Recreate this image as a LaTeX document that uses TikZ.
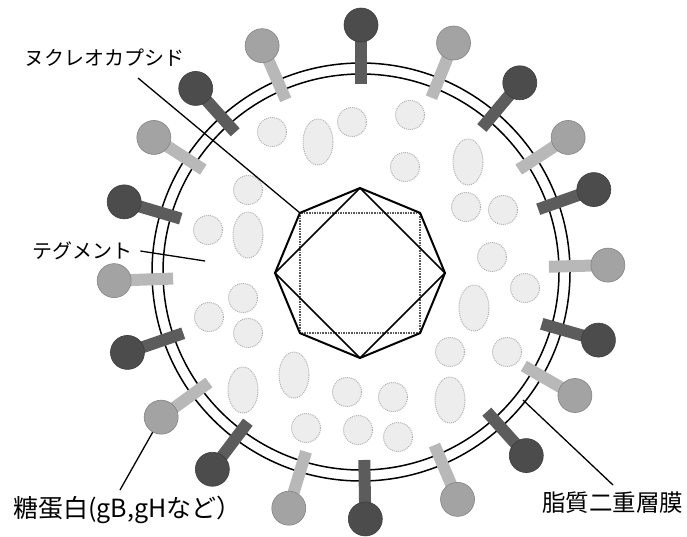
\documentclass[tikz,border=0pt]{standalone}
\usepackage{fontspec}
\newfontfamily\jpfont{Noto Sans CJK JP}

\definecolor{balldark}{gray}{0.30}
\definecolor{balllight}{gray}{0.64}
\definecolor{stalkdark}{gray}{0.36}
\definecolor{stalklight}{gray}{0.72}
\definecolor{tegfill}{gray}{0.93}

\begin{document}
\begin{tikzpicture}[x=1pt,y=-1pt,
  lbl/.style={font=\jpfont\fontsize{#1}{24}\selectfont, inner sep=0pt},
  lbl/.default=20,
  leader/.style={line width=1.3pt},
  membrane/.style={line width=1.5pt},
  capsid/.style={line width=2pt, line join=miter},
  stalk/.style={line width=12pt, draw=#1},
  ball/.style={circle, fill=#1, draw=#1!80!black, line width=0.6pt, minimum size=34pt, inner sep=0pt},
  vesicle/.style={fill=tegfill, draw=gray!60, densely dotted, line width=1pt}]
\useasboundingbox (0,0) rectangle (687,536);

%tegument particles
\foreach \x/\y in {272/132, 352/122, 410/115, 405/167, 248/190, 208/230, 243/298,
    209/317, 248/333, 347/392, 306/428, 358/430, 393/397, 398/437, 450/352,
    507/352, 525/288, 466/207, 503/210, 492/257}
  \draw[vesicle] (\x,\y) circle (14.5);
\foreach \x/\y in {318/142, 468/162, 248/235, 243/390, 294/375, 474/308, 450/400}
  \draw[vesicle] (\x,\y) ellipse (15 and 23);

%envelope
\coordinate (c) at (361,272);
\draw[membrane] (c) circle (209);
\draw[membrane] (c) circle (198);

%glycoprotein spikes
\begin{scope}[shift={(c)}]
\foreach \a/\sc/\bc [count=\k] in {-90/stalkdark/balldark, -68/stalklight/balllight,
    -50/stalkdark/balldark, -33/stalklight/balllight, -19.5/stalkdark/balldark,
    -1.6/stalklight/balllight, 16/stalkdark/balldark, 30/stalklight/balllight,
    48/stalkdark/balldark, 67/stalklight/balllight, 89/stalkdark/balldark,
    107/stalklight/balllight, 127/stalkdark/balldark, 144/stalklight/balllight,
    161/stalkdark/balldark, 178/stalklight/balllight, 196.5/stalkdark/balldark,
    213/stalklight/balllight, 228/stalkdark/balldark, 246.4/stalklight/balllight}{
  \draw[stalk=\sc] (\a:188) -- (\a:234);
  \node[ball=\bc] (b\k) at (\a:247) {};
}
\end{scope}

%nucleocapsid
\coordinate (o) at (360,273);
\foreach \i in {0,...,7}
  \path (o) ++(\i*45:85) coordinate (v\i);
\draw[gray!70!black, densely dotted, line width=1.6pt] (v1) -- (v3) -- (v5) -- (v7) -- cycle;
\draw[line width=1.6pt] (v0) -- (v2) -- (v4) -- (v6) -- cycle;
\draw[capsid] (v0) -- (v1) -- (v2) -- (v3) -- (v4) -- (v5) -- (v6) -- (v7) -- cycle;

%labels
\node[lbl, anchor=west] (nc) at (24,58) {ヌクレオカプシド};
\node[lbl, anchor=west] (teg) at (32,251) {テグメント};
\node[lbl=25, anchor=west] (gp) at (13,510) {糖蛋白(gB,gHなど）};
\node[lbl=23.5, anchor=west] (lip) at (542,503) {脂質二重層膜};

\coordinate (nc-s) at (138,78);
\coordinate (teg-e) at (205,261);
\coordinate (gp-n) at (120,490);
\coordinate (lip-n) at (613,485);
\coordinate (env) at (523,400);

\draw[leader] (nc-s) -- (v5);
\draw[leader] (teg.east) ++(8,0) -- (teg-e);
\draw[leader] (gp-n) -- (b14);
\draw[leader] (lip-n) -- (env);
\end{tikzpicture}
\end{document}
